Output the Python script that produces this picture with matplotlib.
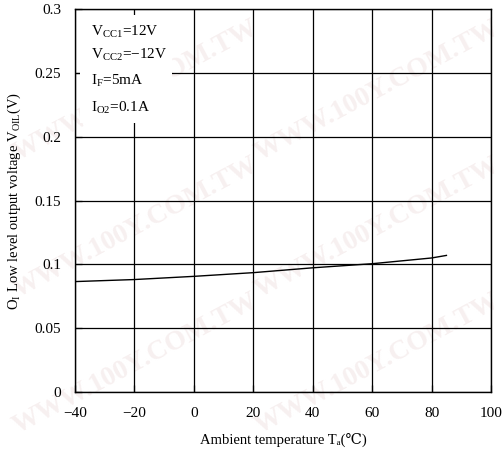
import numpy as np
import matplotlib.pyplot as plt
from matplotlib.patches import Rectangle

# values
temp_c = [-40, -20, 0, 20, 40, 60, 80, 85]
v_ol = [0.0865, 0.0881, 0.0906, 0.0935, 0.0973, 0.1005, 0.105, 0.107]

x_ticks = [-40, -20, 0, 20, 40, 60, 80, 100]
y_ticks = [0, 0.05, 0.1, 0.15, 0.2, 0.25, 0.3]
y_tick_labels = ["0", "0.05", "0.1", "0.15", "0.2", "0.25", "0.3"]

conditions = [r"V$_{\rm CC1}$=12V", r"V$_{\rm CC2}$=−12V",
              r"I$_{\rm F}$=5mA", r"I$_{\rm O2}$=0.1A"]

plt.rcParams['font.family'] = ['Liberation Serif', 'DejaVu Serif']
plt.rcParams['mathtext.fontset'] = 'custom'
plt.rcParams['mathtext.rm'] = 'Liberation Serif'
plt.rcParams['mathtext.it'] = 'Liberation Serif:italic'

fig = plt.figure(figsize=(5.04, 4.55), dpi=100)
ax = fig.add_axes([0.1488, 0.1385, 0.8254, 0.8415])

# very faint watermark behind everything
for (wx, wy) in [(0.27, 0.8), (0.75, 0.8), (0.27, 0.5), (0.75, 0.5),
                 (0.27, 0.2), (0.75, 0.2)]:
    fig.text(wx, wy, "WWW.100Y.COM.TW", fontsize=20, fontweight='bold',
             color='#f7f0f0', rotation=28, ha='center', va='center', zorder=-1)

ax.plot(temp_c, v_ol, color='black', linewidth=1.0, zorder=3)

ax.set_xlim(-40, 100)
ax.set_ylim(0, 0.3)
ax.set_xticks(x_ticks)
ax.set_yticks(y_ticks)
ax.set_yticklabels(y_tick_labels)
ax.grid(True, color='black', linewidth=0.9)
ax.tick_params(direction='in', length=5, width=0.9, labelsize=11)
ax.tick_params(axis='x', pad=11)
ax.tick_params(axis='y', pad=10)
for s in ax.spines.values():
    s.set_linewidth(1.0)
ax.patch.set_alpha(0)

# plain text (no mathtext) so the ℃ glyph can fall back to DejaVu Serif
ax.set_xlabel("Ambient temperature Tₐ(℃)", fontsize=10.5, labelpad=9)
ax.set_ylabel(r"O$_{\rm I}$ Low level output voltage V$_{\rm OIL}$(V)", fontsize=10.5, labelpad=8)

# condition box covering the grid
ax.add_patch(Rectangle((0.012, 0.702), 0.221, 0.282, transform=ax.transAxes,
                       facecolor='white', edgecolor='none', zorder=4))
for txt, yy in zip(conditions, [0.94, 0.88, 0.812, 0.742]):
    ax.text(0.038, yy, txt, transform=ax.transAxes, fontsize=11,
            va='center', ha='left', zorder=5)

fig.savefig("out.png", dpi=100)
